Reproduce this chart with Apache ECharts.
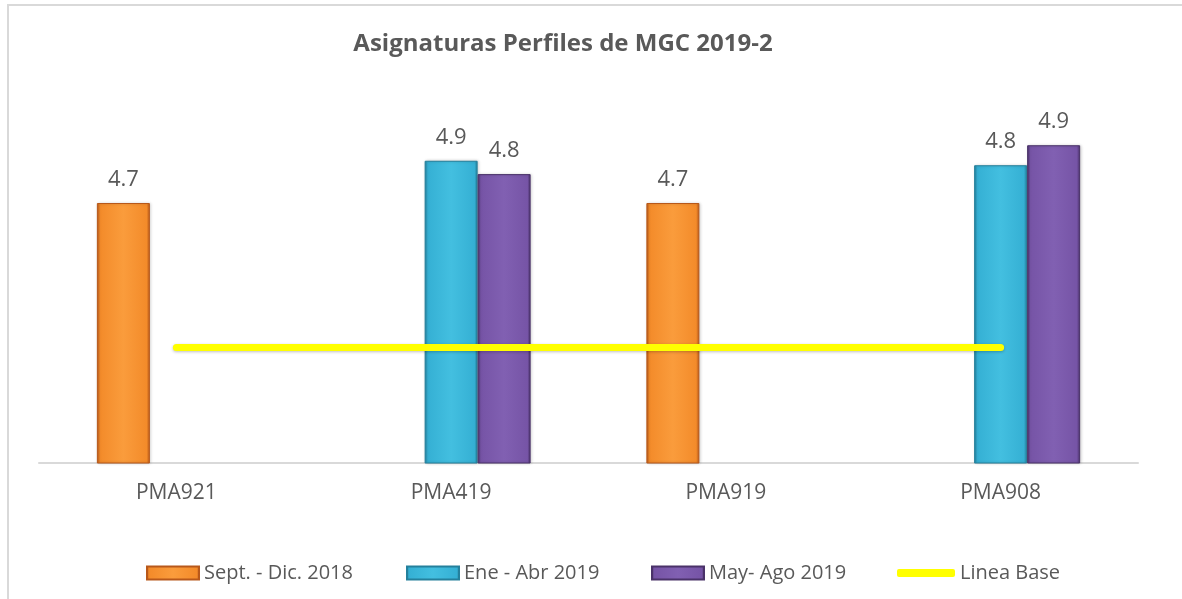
<!DOCTYPE html>
<html>
<head>
<meta charset="utf-8">
<script src="https://cdn.jsdelivr.net/npm/echarts@6/dist/echarts.min.js"></script>
<style>
  html, body { margin: 0; padding: 0; background: #fff; }
  #main { width: 1182px; height: 599px; }
</style>
</head>
<body>
<div id="main"></div>
<script>
var categories = ['PMA921', 'PMA419', 'PMA919', 'PMA908'];
var septDic2018 = [4.67, null, 4.67, null];
var eneAbr2019 = [null, 4.86, null, 4.84];
var mayAgo2019 = [null, 4.80, null, 4.93];
var lineaBase = [4.02, 4.02, 4.02, 4.02];
var seriesNames = ['Sept. - Dic. 2018', 'Ene - Abr 2019', 'May- Ago 2019', 'Linea Base'];

var textColor = '#595959';
var font = '"Open Sans", sans-serif';

// bevel-ish look: darker edges, lighter middle
function barFill(edge, mid, light) {
    return new echarts.graphic.LinearGradient(0, 0, 1, 0, [
        { offset: 0, color: edge },
        { offset: 0.06, color: mid },
        { offset: 0.5, color: light },
        { offset: 0.94, color: mid },
        { offset: 1, color: edge }
    ]);
}

function barSeries(name, data, edge, mid, light) {
    return {
        name: name,
        type: 'bar',
        data: data,
        barWidth: 53,
        barGap: '0%',
        itemStyle: { color: barFill(edge, mid, light), borderColor: edge, borderWidth: 1,
            shadowColor: 'rgba(0,0,0,0.2)', shadowBlur: 3, shadowOffsetX: 1 },
        label: {
            show: true,
            position: 'top',
            distance: 12,
            color: textColor,
            fontFamily: font,
            fontSize: 22,
            formatter: function (p) { return p.value.toFixed(1); }
        }
    };
}

var myChart = echarts.init(document.getElementById('main'));

function legendAt(left, name, isLine) {
    return {
        data: [{ name: name, icon: isLine ? 'roundRect' : 'rect' }],
        left: left,
        top: 558,
        itemWidth: isLine ? 58 : 52,
        itemHeight: isLine ? 8 : 13,
        itemGap: 0,
        textStyle: { color: textColor, fontFamily: font, fontSize: 20 },
        selectedMode: false
    };
}

var option = {
    backgroundColor: '#fff',
    animation: false,
    title: {
        text: 'Asignaturas Perfiles de MGC 2019-2',
        left: 558,
        textAlign: 'center',
        top: 27,
        textStyle: { color: textColor, fontFamily: font, fontWeight: 'bold', fontSize: 24 }
    },
    graphic: [{
        type: 'rect',
        shape: { x: 8, y: 5, width: 1300, height: 700 },
        style: { fill: 'none', stroke: '#D9D9D9', lineWidth: 2 },
        silent: true
    }],
    legend: [
        legendAt(141, seriesNames[0]),
        legendAt(401, seriesNames[1]),
        legendAt(646, seriesNames[2]),
        legendAt(892, seriesNames[3], true)
    ],
    grid: { left: 39, right: 44, top: 63, bottom: 136 },
    xAxis: {
        type: 'category',
        data: categories,
        axisLine: { lineStyle: { color: '#D9D9D9', width: 2 } },
        axisTick: { show: false },
        axisLabel: { color: textColor, fontFamily: font, fontSize: 21, margin: 20 }
    },
    yAxis: {
        type: 'value',
        min: 3.5,
        max: 5.3,
        show: false,
        splitLine: { show: false }
    },
    series: [
        barSeries(seriesNames[0], septDic2018, '#B8581A', '#F38B2A', '#FA9C3C'),
        barSeries(seriesNames[1], eneAbr2019, '#24809C', '#35B0D4', '#43BFE0'),
        barSeries(seriesNames[2], mayAgo2019, '#4A3269', '#7654A6', '#8160B2'),
        {
            name: seriesNames[3],
            type: 'line',
            data: lineaBase,
            symbol: 'none',
            color: '#FFFF00',
            lineStyle: { color: '#FFFF00', width: 7, cap: 'round',
                shadowColor: 'rgba(0,0,0,0.25)', shadowBlur: 3, shadowOffsetY: 1 },
            z: 5
        }
    ]
};

myChart.setOption(option);
window.onresize = myChart.resize;
</script>
</body>
</html>
